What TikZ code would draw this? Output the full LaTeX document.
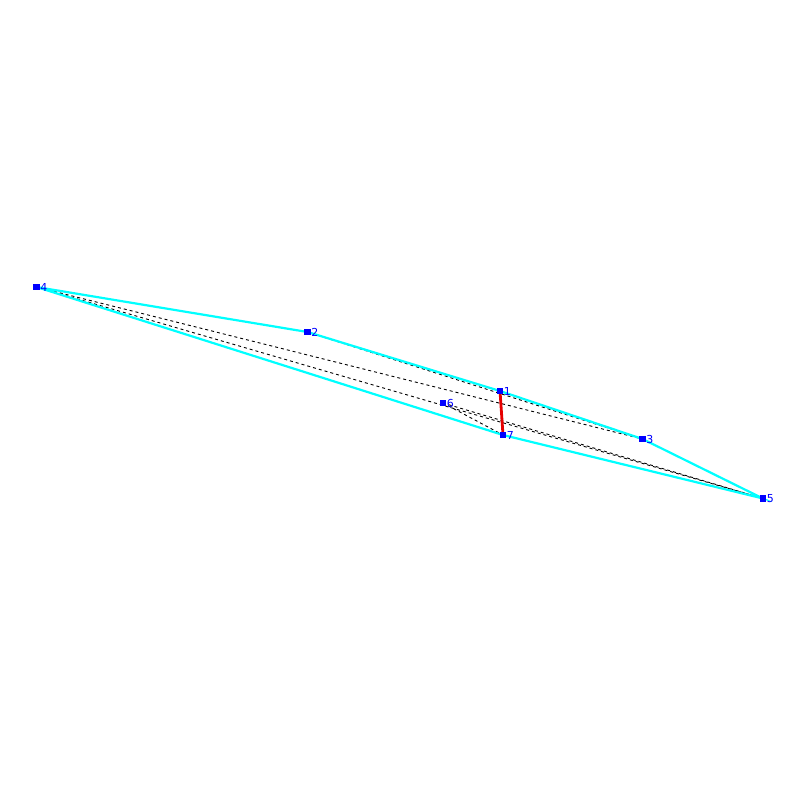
\documentclass[tikz,border=0pt]{standalone}
\usepackage{fontspec}
\setmainfont{DejaVu Sans}
\definecolor{hullcyan}{RGB}{0,255,255}
\definecolor{vblue}{RGB}{0,0,255}
\definecolor{ered}{RGB}{230,0,0}
\begin{document}
\begin{tikzpicture}[x=1pt,y=-1pt,
  hull/.style={draw=hullcyan,line width=2.2pt},
  hidden/.style={draw=black,line width=0.9pt,dash pattern=on 3pt off 3pt},
  redge/.style={draw=ered,line width=2.8pt},
  vtx/.style={fill=vblue,minimum size=6.5pt,inner sep=0pt,outer sep=0pt,rectangle},
  lbl/.style={text=vblue,font=\fontsize{11pt}{11pt}\selectfont,inner sep=0.5pt,anchor=west}]
\useasboundingbox (0,0) rectangle (800,800);
\coordinate (p1) at (500,391);
\coordinate (p2) at (307.5,332);
\coordinate (p3) at (642.5,439);
\coordinate (p4) at (36.5,287);
\coordinate (p5) at (763,498.5);
\coordinate (p6) at (443,403);
\coordinate (p7) at (503,435);
% hidden edges
\draw[hidden] (p4) -- (p3);
\draw[hidden] (p4) -- (p5);
\draw[hidden] (p2) -- (p3);
\draw[hidden] (p6) -- (p5);
\draw[hidden] (p6) -- (p7);
% silhouette
\draw[hull] (p4) -- (p2) -- (p1) -- (p3) -- (p5) -- (p7) -- cycle;
\draw[redge] (p1) -- (p7);
% vertices
\foreach \i in {1,...,7}{
  \node[vtx] (v\i) at (p\i) {};
  \node[lbl] (l\i) at ([yshift=-0.5pt]v\i.east) {\i};
}
\end{tikzpicture}
\end{document}
